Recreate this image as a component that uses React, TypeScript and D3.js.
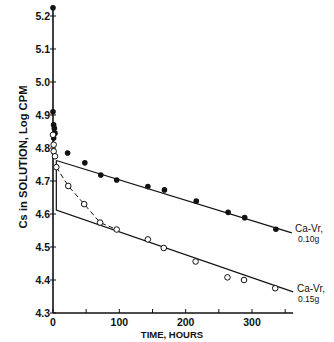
import React from "react";
import * as d3 from "d3";

const yTicks = [4.3, 4.4, 4.5, 4.6, 4.7, 4.8, 4.9, 5.0, 5.1, 5.2];
const yTickLabels = ["4.3", "4.4", "4.5", "4.6", "4.7", "4.8", "4.9", "5.0", "5.1", "5.2"];
const xTicks = [0, 50, 100, 150, 200, 250, 300, 350];
const xTickLabels = ["0", "", "100", "", "200", "", "300", ""];

// Ca-Vr, 0.10g (filled)
const filledT = [0, 0, 1, 2, 3, 1, 22, 48, 72, 96, 143, 168, 216, 264, 289, 336];
const filledV = [5.225, 4.91, 4.87, 4.86, 4.845, 4.83, 4.785, 4.755, 4.718, 4.703, 4.683, 4.673, 4.639, 4.605, 4.589, 4.554];

// Ca-Vr, 0.15g (open)
const openT = [0, 1, 1, 3, 5, 23, 47, 71, 96, 143, 167, 215, 263, 288, 335];
const openV = [4.84, 4.81, 4.79, 4.775, 4.742, 4.685, 4.63, 4.574, 4.553, 4.523, 4.497, 4.456, 4.408, 4.4, 4.375];

const upperLine: [number, number][] = [[5, 4.762], [360, 4.543]];
const lowerLine: [number, number][] = [[5, 4.762], [5, 4.612], [362, 4.364]];
const dashedLine: [number, number][] = [[5, 4.742], [23, 4.685], [47, 4.63], [71, 4.574], [96, 4.553]];

export default function App() {
  const x = d3.scaleLinear().domain([0, 300]).range([53, 252]);
  const y = d3.scaleLinear().domain([4.3, 5.2]).range([313, 16]);
  const line = d3.line<[number, number]>().x((d) => x(d[0])).y((d) => y(d[1]));
  const font = "'Liberation Sans', Arial, sans-serif";
  return (
    <svg width={334} height={342} style={{ position: "absolute", left: 0, top: 0, background: "#fff" }}>
      {/* axes */}
      <line x1={x(0)} y1={y(4.3)} x2={x(0)} y2={y(5.228)} stroke="#111" strokeWidth={1.6} />
      <line x1={x(0)} y1={y(4.3)} x2={x(362)} y2={y(4.3)} stroke="#111" strokeWidth={1.4} />
      {yTicks.map((t, i) => (
        <g key={"y" + i}>
          <line x1={x(0) - 3} x2={x(0) + 3} y1={y(t)} y2={y(t)} stroke="#111" strokeWidth={1} />
          <text x={x(0) - 3} y={y(t) + 4} textAnchor="end" fontFamily={font} fontWeight="bold" fontSize={10.5} fill="#111">
            {yTickLabels[i]}
          </text>
        </g>
      ))}
      {xTicks.map((t, i) => (
        <g key={"x" + i}>
          <line x1={x(t)} x2={x(t)} y1={y(4.3)} y2={y(4.3) - 4} stroke="#111" strokeWidth={1} />
          {xTickLabels[i] && (
            <text x={x(t)} y={y(4.3) + 13} textAnchor="middle" fontFamily={font} fontWeight="bold" fontSize={10.5} fill="#111">
              {xTickLabels[i]}
            </text>
          )}
        </g>
      ))}
      <text x={172} y={338} textAnchor="middle" fontFamily={font} fontWeight="bold" fontSize={9.5} fill="#111">
        TIME, HOURS
      </text>
      <text
        transform={`translate(27,157) rotate(-90)`}
        textAnchor="middle"
        fontFamily={font}
        fontWeight="bold"
        fontSize={11.2}
        fill="#111"
      >
        Cs in SOLUTION, Log CPM
      </text>
      {/* lines */}
      <path d={line(upperLine) || ""} fill="none" stroke="#111" strokeWidth={1.2} />
      <path d={line(lowerLine) || ""} fill="none" stroke="#111" strokeWidth={1.2} />
      <path d={line(dashedLine) || ""} fill="none" stroke="#111" strokeWidth={1} strokeDasharray="5,3" />
      {/* points */}
      {filledT.map((t, i) => (
        <circle key={"f" + i} cx={x(t)} cy={y(filledV[i])} r={2.8} fill="#111" />
      ))}
      {openT.map((t, i) => (
        <circle key={"o" + i} cx={x(t)} cy={y(openV[i])} r={2.8} fill="#fff" stroke="#111" strokeWidth={1} />
      ))}
      {/* labels */}
      <text x={295} y={232} fontFamily={font} fontSize={10} fill="#111">Ca-Vr,</text>
      <text x={298} y={242} fontFamily={font} fontSize={8.5} fill="#111">0.10g</text>
      <text x={297} y={292} fontFamily={font} fontSize={10} fill="#111">Ca-Vr,</text>
      <text x={298} y={302} fontFamily={font} fontSize={8.5} fill="#111">0.15g</text>
    </svg>
  );
}
